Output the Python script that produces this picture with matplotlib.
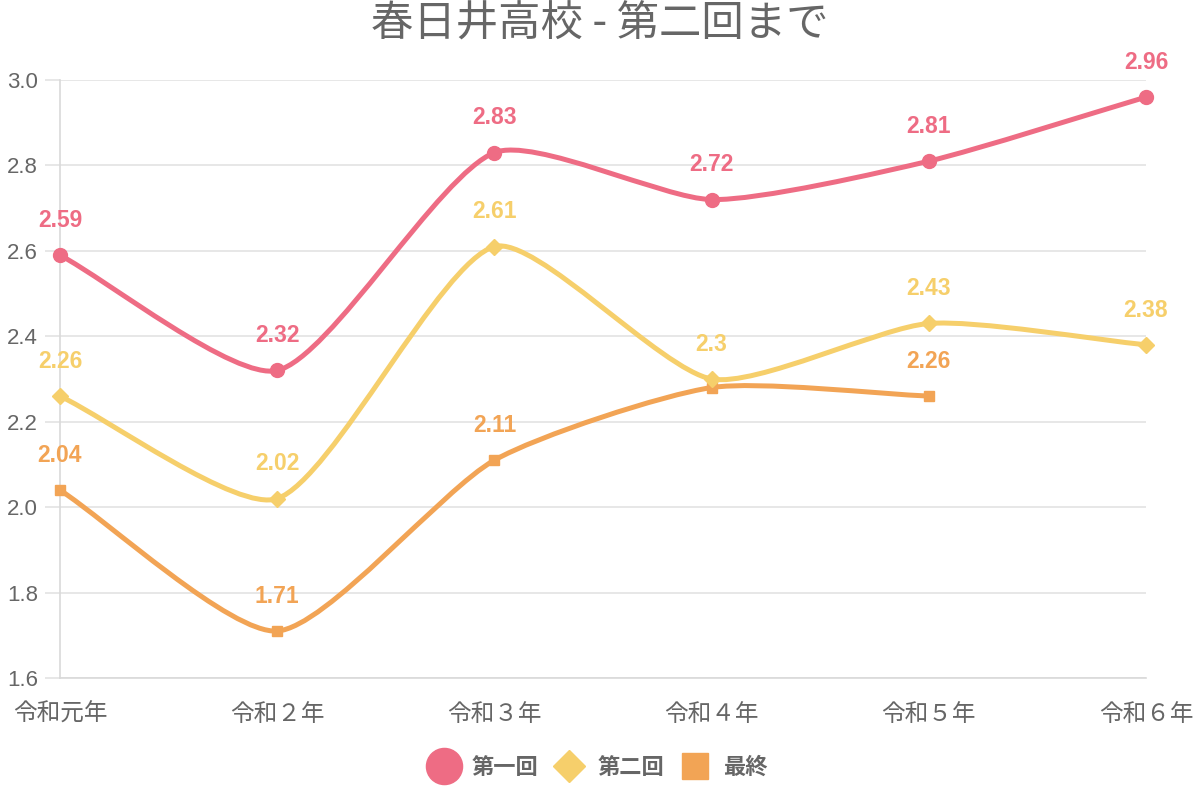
import matplotlib
matplotlib.use("Agg")
import matplotlib.pyplot as plt
from matplotlib.path import Path
from matplotlib.patches import PathPatch
from matplotlib.lines import Line2D
import numpy as np

plt.rcParams['font.family'] = ['Liberation Sans', 'Noto Sans CJK JP', 'DejaVu Sans']

title = "春日井高校 - 第二回まで"
categories = ["令和元年", "令和２年", "令和３年", "令和４年", "令和５年", "令和６年"]
series_names = ["第一回", "第二回", "最終"]
s1 = [2.59, 2.32, 2.83, 2.72, 2.81, 2.96]
s2 = [2.26, 2.02, 2.61, 2.30, 2.43, 2.38]
s3 = [2.04, 1.71, 2.11, 2.28, 2.26, None]
yticks = [1.6, 1.8, 2.0, 2.2, 2.4, 2.6, 2.8, 3.0]
hidden_labels = {(2, 3)}  # label hidden by overlap in the original

colors = ["#EE6C84", "#F6CF6B", "#F2A455"]
markers = ["o", "D", "s"]
msizes = [10, 8, 7.5]
zorders = [5, 4, 3]
gray = "#666666"

fig = plt.figure(figsize=(12, 8), dpi=100)
ax = fig.add_axes([0.05, 0.1525, 0.905, 0.7475])
x = np.arange(len(categories))
ax.set_xlim(0, len(categories) - 1)
ax.set_ylim(yticks[0], yticks[-1])
ax.set_yticks(yticks)
ax.set_yticklabels([f"{v:.1f}" for v in yticks])
ax.set_xticks(x)
ax.set_xticklabels(categories)

for s in ["top", "right"]:
    ax.spines[s].set_visible(False)
for s in ["left", "bottom"]:
    ax.spines[s].set_color("#d9d9d9")
    ax.spines[s].set_linewidth(1.2)
ax.yaxis.grid(True, color="#e3e3e3", linewidth=1.2)
ax.xaxis.grid(False)
ax.set_axisbelow(True)
ax.tick_params(axis="y", length=11, color="#e3e3e3", width=1.2, pad=5,
               labelsize=16, labelcolor=gray)
ax.tick_params(axis="x", length=0, pad=18, labelsize=17, labelcolor=gray)
for lab in ax.get_xticklabels():
    lab.set_fontfamily(['Noto Sans CJK JP', 'DejaVu Sans'])

fig.text(0.5, 0.969, title, ha="center", va="center", fontsize=30.5, color=gray,
         family=['Noto Sans CJK JP', 'DejaVu Sans'])

def spline_path(xs, ys, tension=0.22):
    pts = ax.transData.transform(np.column_stack([xs, ys]))
    bbox = ax.bbox
    n = len(pts)
    cps = []
    for i in range(n):
        prev = pts[i - 1] if i > 0 else pts[i]
        cur = pts[i]
        nxt = pts[i + 1] if i < n - 1 else pts[i]
        d01 = np.hypot(*(cur - prev))
        d12 = np.hypot(*(nxt - cur))
        tot = d01 + d12
        s01 = d01 / tot if tot else 0
        s12 = d12 / tot if tot else 0
        fa = tension * s01
        fb = tension * s12
        cp_prev = cur - fa * (nxt - prev)
        cp_next = cur + fb * (nxt - prev)
        for cp in (cp_prev, cp_next):
            cp[0] = min(max(cp[0], bbox.x0), bbox.x1)
            cp[1] = min(max(cp[1], bbox.y0), bbox.y1)
        cps.append((cp_prev, cp_next))
    verts = [pts[0]]
    codes = [Path.MOVETO]
    for i in range(n - 1):
        verts += [cps[i][1], cps[i + 1][0], pts[i + 1]]
        codes += [Path.CURVE4] * 3
    inv = ax.transData.inverted()
    verts = inv.transform(np.array(verts))
    return Path(verts, codes)

all_series = [s1, s2, s3]
for si, (vals, c, m, ms, z) in enumerate(zip(all_series, colors, markers, msizes, zorders)):
    xs = [xi for xi, v in zip(x, vals) if v is not None]
    ys = [v for v in vals if v is not None]
    path = spline_path(xs, ys)
    ax.add_patch(PathPatch(path, facecolor="none", edgecolor=c, linewidth=3.6,
                           zorder=z, capstyle="round", joinstyle="round"))
    ax.plot(xs, ys, linestyle="none", marker=m, markersize=ms, color=c, zorder=z + 0.5,
            clip_on=False)
    for xi, v in zip(xs, ys):
        if (si, xi) in hidden_labels:
            continue
        ax.annotate(f"{v:g}", (xi, v), xytext=(0, 25), textcoords="offset points",
                    ha="center", va="center", fontsize=16.5, fontweight="bold", color=c,
                    annotation_clip=False, zorder=10)

handles = [Line2D([], [], linestyle="none", marker="o", markersize=26, color=colors[0]),
           Line2D([], [], linestyle="none", marker="D", markersize=16.5, color=colors[1]),
           Line2D([], [], linestyle="none", marker="s", markersize=18.5, color=colors[2])]
leg = fig.legend(handles, series_names, loc="center", bbox_to_anchor=(0.5, 0.041),
                 ncol=3, frameon=False, handlelength=1.0, handletextpad=0.75,
                 columnspacing=0.9, prop={'family': ['Noto Sans CJK JP', 'DejaVu Sans'],
                                          'weight': 'bold', 'size': 16})
for t in leg.get_texts():
    t.set_color(gray)

fig.savefig("out.png", dpi=100)
